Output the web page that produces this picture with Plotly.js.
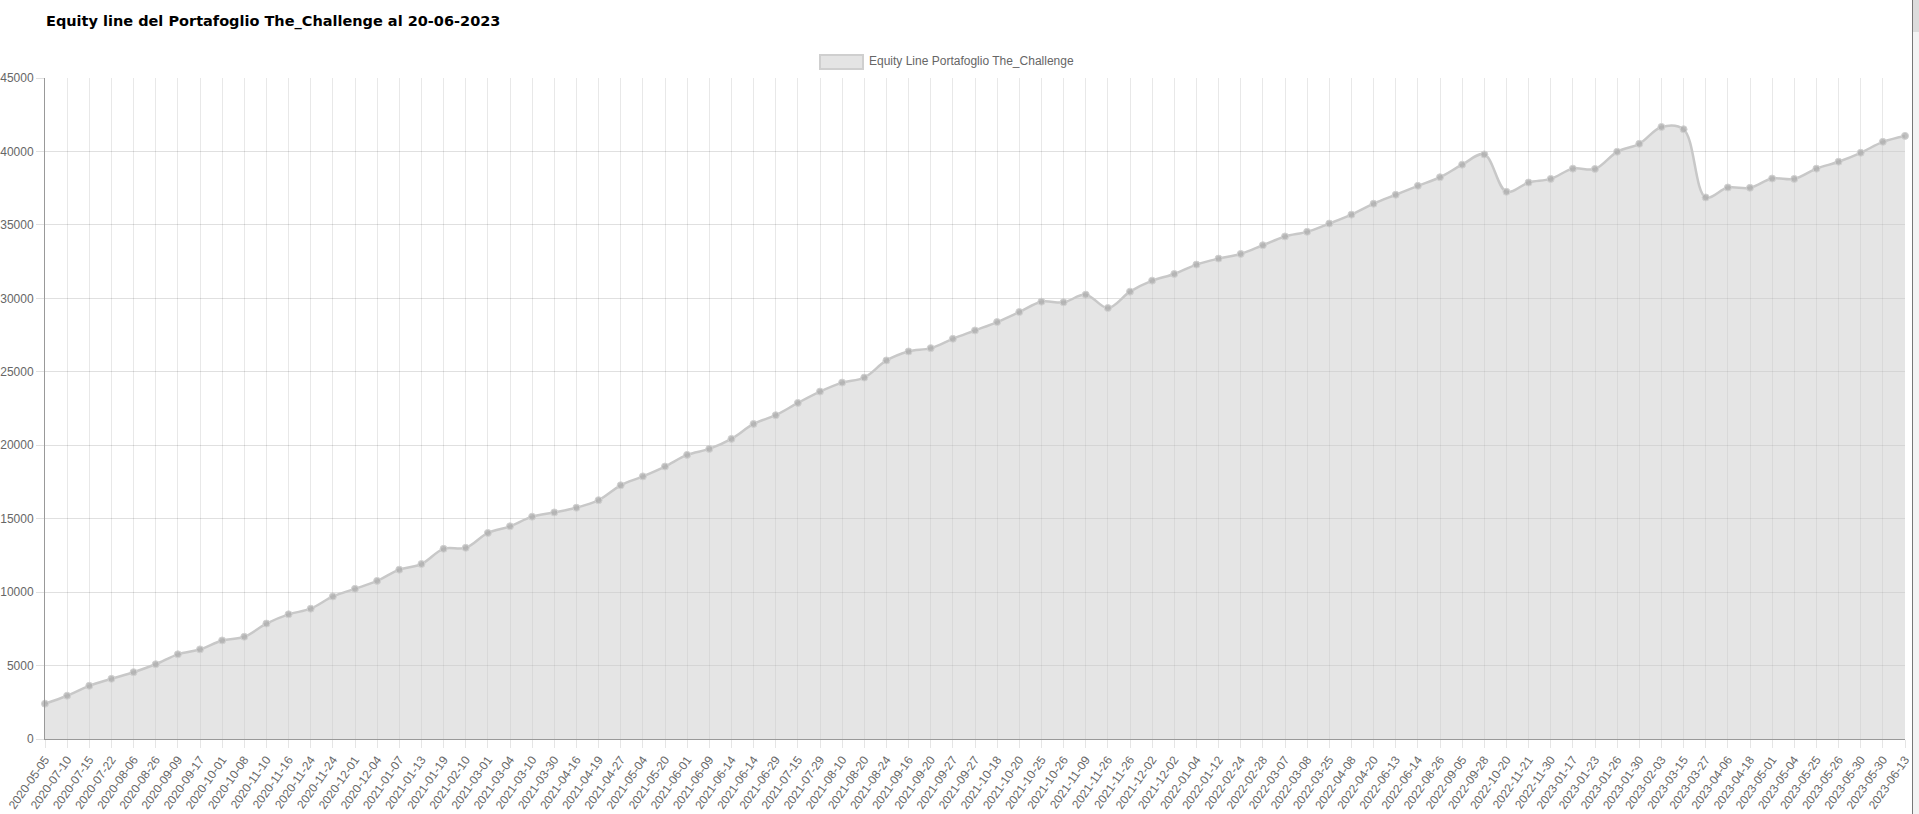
<!DOCTYPE html>
<html>
<head>
<meta charset="utf-8">
<script src="https://cdn.plot.ly/plotly-3.0.1.min.js"></script>
<style>
html,body{margin:0;padding:0;background:#fff;overflow:hidden;}
#chart{width:1919px;height:814px;}
#sb{position:absolute;left:1912px;top:0;width:7px;height:814px;border-left:1px solid #777;background:#f3f3f3;box-sizing:border-box;}
#sbt{position:absolute;left:0;top:0;width:6px;height:32px;background:#dcdcdc;}
</style>
</head>
<body>
<div id="chart"></div>
<div id="sb"><div id="sbt"></div></div>
<script>
const chartTitle = "Equity line del Portafoglio The_Challenge al 20-06-2023";
const seriesName = "Equity Line Portafoglio The_Challenge";

const dateLabels = [
  "2020-05-05","2020-07-10","2020-07-15","2020-07-22","2020-08-06","2020-08-26","2020-09-09","2020-09-17",
  "2020-10-01","2020-10-08","2020-11-10","2020-11-16","2020-11-24","2020-11-24","2020-12-01","2020-12-04",
  "2021-01-07","2021-01-13","2021-01-19","2021-02-10","2021-03-01","2021-03-04","2021-03-10","2021-03-30",
  "2021-04-16","2021-04-19","2021-04-27","2021-05-04","2021-05-20","2021-06-01","2021-06-09","2021-06-14",
  "2021-06-14","2021-06-29","2021-07-15","2021-07-29","2021-08-10","2021-08-20","2021-08-24","2021-09-16",
  "2021-09-20","2021-09-27","2021-09-27","2021-10-18","2021-10-20","2021-10-25","2021-10-26","2021-11-09",
  "2021-11-26","2021-11-26","2021-12-02","2021-12-02","2022-01-04","2022-01-12","2022-02-24","2022-02-28",
  "2022-03-07","2022-03-08","2022-03-25","2022-04-08","2022-04-20","2022-06-13","2022-06-14","2022-08-26",
  "2022-09-05","2022-09-28","2022-10-20","2022-11-21","2022-11-30","2023-01-17","2023-01-23","2023-01-26",
  "2023-01-30","2023-02-03","2023-03-15","2023-03-27","2023-04-06","2023-04-18","2023-05-01","2023-05-04",
  "2023-05-25","2023-05-26","2023-05-30","2023-05-30","2023-06-13"
];

const equityValues = [
  2405, 2946, 3622, 4095, 4547, 5088, 5764, 6101, 6709, 6959,
  7858, 8487, 8872, 9703, 10223, 10764, 11527, 11912, 12946, 13014,
  14027, 14480, 15135, 15426, 15743, 16257, 17270, 17878, 18549, 19342,
  19751, 20431, 21451, 22041, 22880, 23651, 24263, 24603, 25771, 26383,
  26610, 27245, 27812, 28386, 29068, 29773, 29727, 30250, 29341, 30455,
  31205, 31659, 32295, 32705, 33023, 33614, 34212, 34527, 35090, 35698,
  36441, 37050, 37658, 38243, 39099, 39797, 37252, 37883, 38131, 38829,
  38806, 39977, 40518, 41667, 41509, 36869, 37545, 37523, 38153, 38131,
  38829, 39302, 39910, 40653, 41059
];

const yTicks = [0, 5000, 10000, 15000, 20000, 25000, 30000, 35000, 40000, 45000];

const xIdx = dateLabels.map((_, i) => i);

const trace = {
  x: xIdx,
  y: equityValues,
  type: "scatter",
  mode: "lines+markers",
  name: seriesName,
  showlegend: false,
  fill: "tozeroy",
  fillcolor: "rgba(200,200,200,0.48)",
  line: {color: "rgba(200,200,200,1)", width: 2.5, shape: "spline", smoothing: 1},
  marker: {size: 7, color: "rgba(175,175,175,0.8)", line: {color: "rgba(210,210,210,1)", width: 1}},
  cliponaxis: false,
  hoverinfo: "y"
};

const layout = {
  width: 1919,
  height: 814,
  margin: {l: 45, r: 14, t: 78, b: 75},
  paper_bgcolor: "#ffffff",
  plot_bgcolor: "#ffffff",
  font: {family: "Liberation Sans, Arial, sans-serif", size: 12, color: "#666"},
  title: {
    text: "<b>" + chartTitle + "</b>",
    font: {family: "DejaVu Sans, Verdana, sans-serif", size: 14.5, color: "#000"},
    xref: "container", yref: "container",
    x: 46/1919, xanchor: "left",
    y: 1 - 21/814, yanchor: "middle"
  },
  xaxis: {
    range: [0, dateLabels.length - 1],
    tickmode: "array",
    tickvals: xIdx,
    ticktext: dateLabels,
    tickangle: -55,
    showgrid: true,
    gridcolor: "rgba(0,0,0,0.09)",
    ticks: "outside",
    ticklen: 8,
    tickcolor: "rgba(0,0,0,0.1)",
    showline: true,
    linecolor: "#999",
    linewidth: 1,
    zeroline: false,
    tickfont: {size: 12, color: "#666"},
    fixedrange: true
  },
  yaxis: {
    range: [0, 45000],
    tickmode: "array",
    tickvals: yTicks,
    ticktext: yTicks.map(String),
    showgrid: true,
    gridcolor: "rgba(0,0,0,0.12)",
    ticks: "outside",
    ticklen: 8,
    tickcolor: "rgba(0,0,0,0.12)",
    showline: true,
    linecolor: "#999",
    linewidth: 1,
    zeroline: false,
    tickfont: {size: 12, color: "#666"},
    fixedrange: true
  },
  shapes: [{
    type: "rect", xref: "paper", yref: "paper",
    x0: (820-45)/1860, x1: (863-45)/1860,
    y0: (739-69)/661, y1: (739-55)/661,
    fillcolor: "#e4e4e4",
    line: {color: "#cfcfcf", width: 2}
  }],
  annotations: [{
    xref: "paper", yref: "paper",
    x: (867-45)/1860, xanchor: "left",
    y: (739-61.5)/661, yanchor: "middle",
    text: seriesName,
    showarrow: false,
    font: {size: 12, color: "#666"}
  }],
  showlegend: false
};

Plotly.newPlot("chart", [trace], layout, {displayModeBar: false, staticPlot: true});
</script>
</body>
</html>
